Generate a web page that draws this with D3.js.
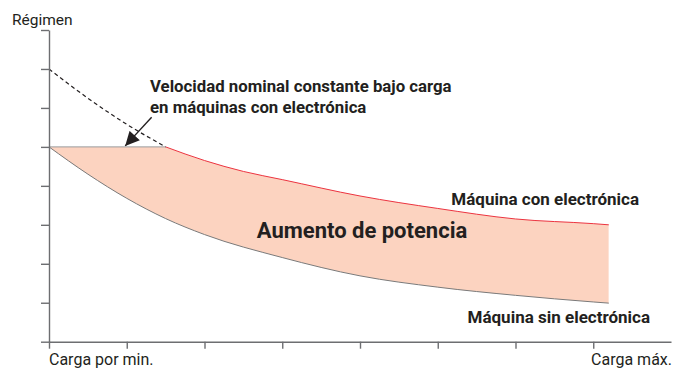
<!DOCTYPE html>
<html>
<head>
<meta charset="utf-8">
<script src="https://cdn.jsdelivr.net/npm/d3@7"></script>
<style>
  html, body { margin: 0; padding: 0; background: #fff; }
  svg { display: block; }
  text { font-family: Roboto, "Noto Sans", sans-serif; fill: #231f20; }
</style>
</head>
<body>
<svg id="chart" width="684" height="368"></svg>
<script>
// Load positions (tick units) and engine speed readings (tick units)
const loadTicks = [0, 1, 2, 3, 4, 5, 6, 7];
const speedTicks = [0, 1, 2, 3, 4, 5, 6, 7, 8];

// Machine without electronics: speed drops as soon as load rises
const withoutLoad  = [0, 0.5, 1, 1.5, 2, 3, 4, 5, 6, 7, 7.2];
const withoutSpeed = [5.0, 4.30, 3.68, 3.16, 2.75, 2.16, 1.69, 1.40, 1.19, 1.02, 0.99];

// Machine with electronics: nominal speed held, then falls more gently
const heldLoad  = [0, 1.5];
const heldSpeed = [5.0, 5.0];
const withLoad  = [1.5, 2, 2.5, 3, 4, 5, 6, 7, 7.2];
const withSpeed = [5.0, 4.65, 4.37, 4.16, 3.74, 3.42, 3.15, 3.03, 3.0];

// Unregulated speed curve over the low-load range
const freeLoad  = [0, 0.5, 1, 1.5];
const freeSpeed = [7.0, 6.25, 5.58, 5.0];

const labels = {
  yTitle: "Régimen",
  xMin: "Carga por min.",
  xMax: "Carga máx.",
  note: ["Velocidad nominal constante bajo carga", "en máquinas con electrónica"],
  gain: "Aumento de potencia",
  with: "Máquina con electrónica",
  without: "Máquina sin electrónica"
};

const svg = d3.select("#chart");
const axisColor = "#6d6e71";

const x = d3.scaleLinear().domain([0, 8]).range([49, 671]);
const y = d3.scaleLinear().domain([0, 8]).range([341.7, 30]);

const pts = (xs, ys) => xs.map((v, i) => [v, ys[i]]);
const withoutPts = pts(withoutLoad, withoutSpeed);
const heldPts = pts(heldLoad, heldSpeed);
const withPts = pts(withLoad, withSpeed);
const freePts = pts(freeLoad, freeSpeed);

const line = d3.line().x(d => x(d[0])).y(d => y(d[1])).curve(d3.curveMonotoneX);

// Clip region: everything above the "without electronics" curve
const defs = svg.append("defs");
defs.append("clipPath").attr("id", "aboveWithout")
  .append("path")
  .attr("d", d3.area().x(d => x(d[0])).y0(y(8)).y1(d => y(d[1])).curve(d3.curveMonotoneX)(withoutPts));

// Power gain band: under the held speed and the electronics curve, clipped
// to the region above the plain machine curve
const heldLine = d3.line().x(d => x(d[0])).y(d => y(d[1]))(heldPts);
const last = withPts[withPts.length - 1];
const bandPath =
  `M${x(heldPts[0][0])},${y(0)}` +
  heldLine.replace(/^M/, "L") +
  line(withPts).replace(/^M/, "L") +
  `L${x(last[0])},${y(0)}Z`;
svg.append("path")
  .attr("clip-path", "url(#aboveWithout)")
  .attr("fill", "#fcd3c0")
  .attr("d", bandPath);

// Curves
svg.append("path").attr("d", line(withoutPts))
  .attr("fill", "none").attr("stroke", "#7a7a7a").attr("stroke-width", 1);
svg.append("path").attr("d", heldLine)
  .attr("fill", "none").attr("stroke", "#9a9a9a").attr("stroke-width", 1);
svg.append("path").attr("d", line(withPts))
  .attr("fill", "none").attr("stroke", "#ec3440").attr("stroke-width", 1);
svg.append("path").attr("d", line(freePts))
  .attr("fill", "none").attr("stroke", "#231f20").attr("stroke-width", 1.2)
  .attr("stroke-dasharray", "4,3");

// Axes
const yAxis = svg.append("g").attr("transform", `translate(${x(0)},0)`)
  .call(d3.axisLeft(y).tickValues(speedTicks).tickSize(8).tickSizeOuter(0).tickFormat(""));
const xAxis = svg.append("g").attr("transform", `translate(0,${y(0)})`)
  .call(d3.axisBottom(x).tickValues(loadTicks).tickSize(7).tickSizeOuter(0).tickFormat(""));
[yAxis, xAxis].forEach(g => {
  g.selectAll("path, line").attr("stroke", axisColor).attr("stroke-width", 1.4);
});

// Arrow pointing at the held nominal speed
defs.append("marker").attr("id", "arrowHead")
  .attr("viewBox", "0 0 10 10").attr("refX", 10).attr("refY", 5)
  .attr("markerWidth", 15).attr("markerHeight", 14).attr("markerUnits", "userSpaceOnUse")
  .attr("orient", "auto")
  .append("path").attr("d", "M0,0 L10,5 L0,10 Z").attr("fill", "#231f20");
svg.append("line")
  .attr("x1", x(1.32)).attr("y1", y(5.76))
  .attr("x2", x(0.98)).attr("y2", y(5.0) - 1)
  .attr("stroke", "#231f20").attr("stroke-width", 1.4)
  .attr("marker-end", "url(#arrowHead)");

// Text
svg.append("text").attr("x", 12).attr("y", 25).attr("font-size", 15.5).text(labels.yTitle);
svg.append("text").attr("x", x(0)).attr("y", 365).attr("font-size", 16).text(labels.xMin);
svg.append("text").attr("x", 672).attr("y", 365).attr("font-size", 16)
  .attr("text-anchor", "end").text(labels.xMax);

const note = svg.append("text").attr("font-size", 16.8).attr("font-weight", "bold");
note.append("tspan").attr("x", 150).attr("y", 92).text(labels.note[0]);
note.append("tspan").attr("x", 150).attr("y", 113).text(labels.note[1]);

svg.append("text").attr("x", 362).attr("y", 238).attr("text-anchor", "middle")
  .attr("font-size", 22).attr("font-weight", "bold").text(labels.gain);
svg.append("text").attr("x", 639).attr("y", 205).attr("text-anchor", "end")
  .attr("font-size", 17).attr("font-weight", "bold").text(labels.with);
svg.append("text").attr("x", 650).attr("y", 323).attr("text-anchor", "end")
  .attr("font-size", 17).attr("font-weight", "bold").text(labels.without);
</script>
</body>
</html>
